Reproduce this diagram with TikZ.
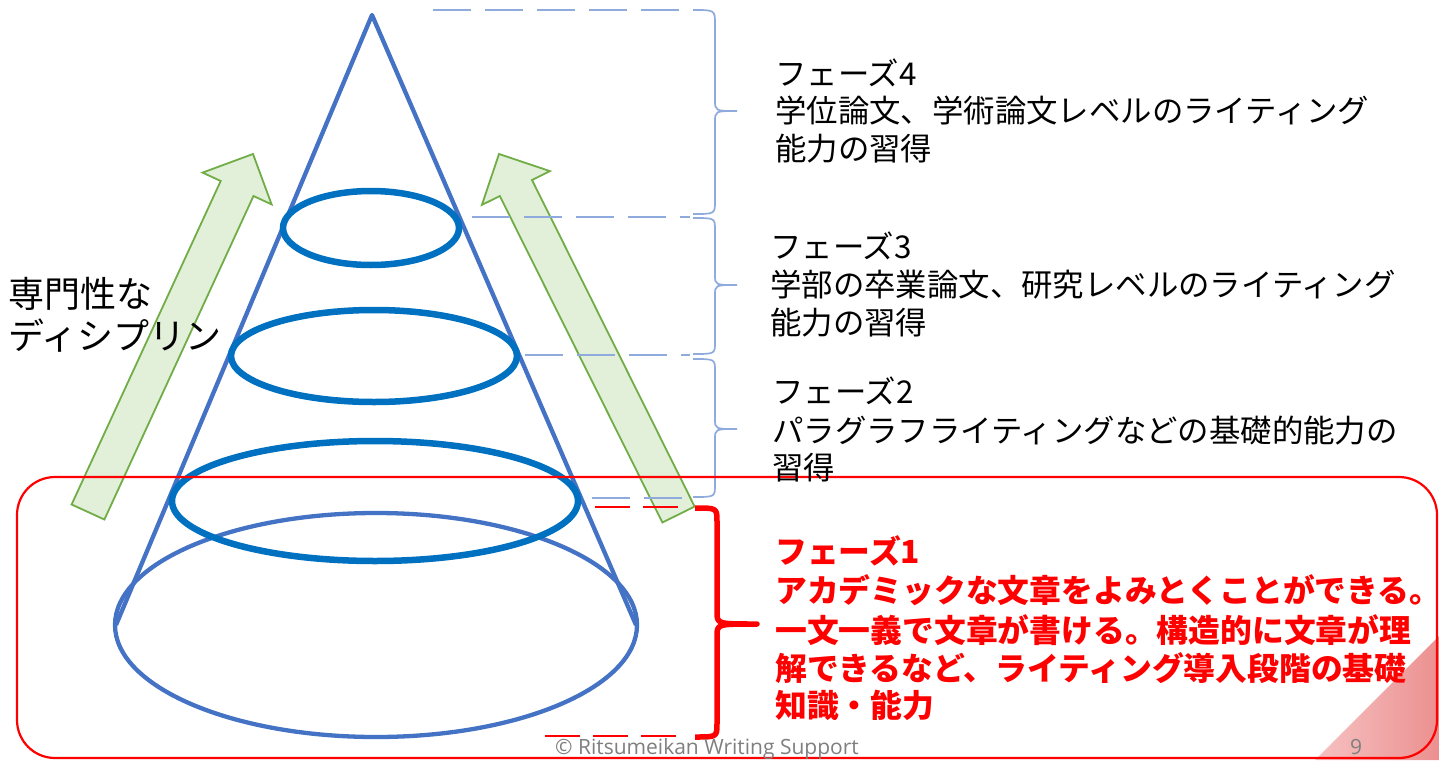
\documentclass[tikz,border=0pt]{standalone}
\usepackage{fontspec}
\newfontfamily\jp{Noto Sans CJK JP}
\newfontfamily\footfont{Open Sans}
\definecolor{coneblue}{HTML}{4472C4}
\definecolor{ringblue}{HTML}{0070C0}
\definecolor{dashblue}{HTML}{8FAADC}
\definecolor{arrowfill}{HTML}{E2F0D9}
\definecolor{arrowline}{HTML}{70AD47}
\definecolor{pinkA}{HTML}{F6C2C2}
\definecolor{pinkB}{HTML}{EC9090}
\definecolor{footgray}{HTML}{7F7F7F}
\definecolor{phasered}{HTML}{FF0000}
\tikzset{
  greenarrow/.style={fill=arrowfill, draw=arrowline, line width=1.8pt, line join=miter},
  coneline/.style={draw=coneblue, line width=4.3pt},
  ring/.style={draw=ringblue, line width=6.5pt},
  bluedash/.style={draw=dashblue, line width=1.6pt, dash pattern=on 38pt off 14pt},
  reddash/.style={draw=phasered, line width=1.3pt, dash pattern=on 35pt off 13pt},
  bluebrace/.style={draw=dashblue, line width=1.7pt},
  redbrace/.style={draw=phasered, line width=5.5pt, line join=round},
  phasetxt/.style={anchor=base west, inner sep=0pt, font=\jp\fontsize{31.4}{37}\selectfont, text=black},
  redtxt/.style={anchor=base west, inner sep=0pt, font=\jp\bfseries\fontsize{31.8}{37}\selectfont, text=phasered},
  lefttxt/.style={anchor=base west, inner sep=0pt, font=\jp\fontsize{36}{42}\selectfont, text=black},
  foottxt/.style={anchor=base, inner sep=0pt, font=\footfont\fontsize{21}{24}\selectfont, text=footgray}
}
\begin{document}
\begin{tikzpicture}[x=1pt,y=-1pt]
\useasboundingbox (0,0) rectangle (1439,760);
\fill[white] (0,0) rectangle (1439,760);

% pink corner
\shade[left color=pinkA, right color=pinkB] (1315,760) -- (1439,636) -- (1439,760) -- cycle;

% green arrows
\path[greenarrow] (71.6,504.5) -- (220.7,181) -- (202.6,172.6) -- (253,154) -- (271.6,204.4) -- (253.5,196) -- (104.4,519.5) -- cycle;
\path[greenarrow] (662.4,522.5) -- (499.8,196) -- (481.9,204.9) -- (499,154) -- (549.9,171.1) -- (532,180) -- (694.6,506.5) -- cycle;

% cone
\draw[coneline] (376,625) ellipse [x radius=261, y radius=112];
\coordinate (apex) at (372,15);
\coordinate (baseL) at (116,625);
\coordinate (baseR) at (636,625);
\draw[coneline, line join=round] (baseL) -- (apex) -- (baseR);
\draw[ring] (371,228) ellipse [x radius=88, y radius=37];
\draw[ring] (374,356) ellipse [x radius=143, y radius=46];
\draw[ring] (375,501) ellipse [x radius=203, y radius=60];

% dashed level lines
\draw[bluedash] (433,10) -- (690,10);
\draw[bluedash] (472,217) -- (690,217);
\draw[bluedash] (525,355) -- (690,355);
\draw[bluedash] (592,498) -- (690,498);
\draw[reddash] (595,507) -- (683,507);
\draw[reddash] (545,736) -- (685,736);

% braces
\draw[bluebrace] (693,10) .. controls (715,10) .. (715,24) -- (715,100) .. controls (715,111) .. (737,111) .. controls (715,111) .. (715,122) -- (715,201) .. controls (715,214) .. (693,214);
\draw[bluebrace] (693,218) .. controls (715,218) .. (715,230) -- (715,275) .. controls (715,285) .. (737,285) .. controls (715,285) .. (715,295) -- (715,342) .. controls (715,354) .. (693,354);
\draw[bluebrace] (693,359) .. controls (715,359) .. (715,371) -- (715,419) .. controls (715,429) .. (737,429) .. controls (715,429) .. (715,439) -- (715,485) .. controls (715,497) .. (693,497);
\draw[redbrace] (695,508) .. controls (717,508) .. (717,522) -- (717,612) .. controls (717,624) .. (757,624) .. controls (717,624) .. (717,636) -- (717,723) .. controls (717,737) .. (695,737);

% red frame
\draw[phasered, line width=2.2pt, rounded corners=38pt] (17,477) rectangle (1437,758);

% left label
\node[lefttxt] (disc1) at (8,307) {専門性な};
\node[lefttxt] (disc2) at (8,349) {ディシプリン};

% phase 4
\node[phasetxt] (p4a) at (775,85) {フェーズ4};
\node[phasetxt] (p4b) at (775,122) {学位論文、学術論文レベルのライティング};
\node[phasetxt] (p4c) at (775,160) {能力の習得};
% phase 3
\node[phasetxt] (p3a) at (770,258) {フェーズ3};
\node[phasetxt] (p3b) at (770,296) {学部の卒業論文、研究レベルのライティング};
\node[phasetxt] (p3c) at (770,334) {能力の習得};
% phase 2
\node[phasetxt] (p2a) at (772,403) {フェーズ2};
\node[phasetxt] (p2b) at (772,442) {パラグラフライティングなどの基礎的能力の};
\node[phasetxt] (p2c) at (772,479) {習得};
% phase 1
\node[redtxt] (p1a) at (775,563) {フェーズ1};
\node[redtxt] (p1b) at (775,602) {アカデミックな文章をよみとくことができる。};
\node[redtxt] (p1c) at (775,642) {一文一義で文章が書ける。構造的に文章が理};
\node[redtxt] (p1d) at (775,680) {解できるなど、ライティング導入段階の基礎};
\node[redtxt] (p1e) at (775,717) {知識・能力};

% footer
\node[foottxt] (foot) at (707,754) {© Ritsumeikan Writing Support};
\node[foottxt] (pgno) at (1356,754) {9};
\end{tikzpicture}
\end{document}
